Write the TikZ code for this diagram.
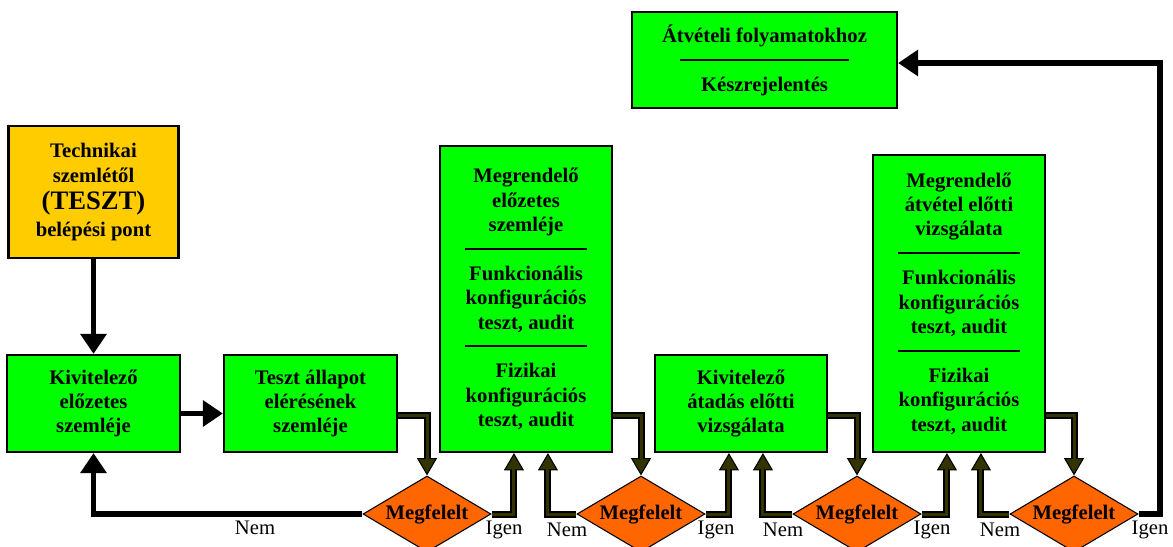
\documentclass[tikz,border=0pt]{standalone}
\usepackage{fontspec}
\setmainfont{Liberation Serif}
\usepackage[HTML]{xcolor}
\usepackage{tikz}
\usetikzlibrary{positioning, arrows, arrows.meta, shapes.geometric}

\definecolor{boxgreen}{HTML}{00FF00}
\definecolor{entryyellow}{HTML}{FFCC00}
\definecolor{gateorange}{HTML}{FF6600}
\definecolor{darkolive}{HTML}{333300}

\newcommand{\sepline}[1]{\rule[4.5pt]{#1}{1.5pt}}

\begin{document}
\begin{tikzpicture}[
    x=0.75pt, y=-0.75pt, % pixel grid, y runs downwards
    every node/.style={inner sep=2pt},
    box/.style={draw=black, line width=1.6pt, fill=boxgreen, align=center,
        font=\fontsize{15.5}{18.3}\selectfont\bfseries},
    entrybox/.style={box, fill=entryyellow},
    gate/.style={diamond, aspect=1.68, draw=black, line width=0.8pt, fill=gateorange,
        inner sep=0pt, minimum width=96pt, minimum height=57pt,
        font=\fontsize{15.5}{18}\selectfont\bfseries},
    answer/.style={font=\fontsize{15.5}{18}\selectfont},
    fatarrow/.style={draw=black, line width=4.2pt, -{Triangle[length=15pt, width=19pt]}},
    dblarrow/.style={draw=darkolive, line width=2.25pt, shorten >=11pt,
        preaction={draw=black, line width=5.25pt, shorten >=0pt,
            -{Triangle[length=13pt, width=15pt, line width=0.8pt, fill=darkolive]}}}
]
    \useasboundingbox (0,0) rectangle (1173,546);

    % 1. Define the nodes using explicit coordinates
    \node[entrybox, minimum width=127.5pt, minimum height=99pt] (entry) at (93.5,192)
        {Technikai\\szemlétől\\[2pt]{\fontsize{20}{24}\selectfont (TESZT)}\\[2pt]belépési pont};
    \node[box, minimum width=129.75pt, minimum height=72.75pt] (kiv1) at (93.5,403.5)
        {Kivitelező\\előzetes\\szemléje};
    \node[box, minimum width=129.75pt, minimum height=72.75pt] (teszt) at (310.5,403.5)
        {Teszt állapot\\elérésének\\szemléje};
    \node[box, minimum width=129pt, minimum height=229.5pt] (megr1) at (526,299)
        {Megrendelő\\előzetes\\szemléje\\\sepline{91pt}\\Funkcionális\\konfigurációs\\teszt, audit\\\sepline{91pt}\\Fizikai\\konfigurációs\\teszt, audit};
    \node[box, minimum width=129pt, minimum height=72.75pt] (kiv2) at (741,403.5)
        {Kivitelező\\átadás előtti\\vizsgálata};
    \node[box, minimum width=129pt, minimum height=222.75pt] (megr2) at (959,303.5)
        {Megrendelő\\átvétel előtti\\vizsgálata\\\sepline{91pt}\\Funkcionális\\konfigurációs\\teszt, audit\\\sepline{91pt}\\Fizikai\\konfigurációs\\teszt, audit};
    \node[box, minimum width=198.75pt, minimum height=72pt] (atvet) at (764.5,60)
        {Átvételi folyamatokhoz\\\sepline{127pt}\\Készrejelentés};

    % decisions
    \node[gate] (g1) at (427,514) {Megfelelt};
    \node[gate] (g2) at (641,514) {Megfelelt};
    \node[gate] (g3) at (857,514) {Megfelelt};
    \node[gate] (g4) at (1074,514) {Megfelelt};

    % answers
    \node[answer] (nem1) at (255,528) {Nem};
    \node[answer] (igen1) at (504,530) {Igen};
    \node[answer] (nem2) at (567,530) {Nem};
    \node[answer] (igen2) at (716,530) {Igen};
    \node[answer] (nem3) at (783,530) {Nem};
    \node[answer] (igen3) at (932,530) {Igen};
    \node[answer] (nem4) at (1000,530) {Nem};
    \node[answer] (igen4) at (1150,530) {Igen};

    % 2. Draw the arrows

    % entry -> first review
    \draw[fatarrow] (entry.south) -- (kiv1.north);
    \draw[fatarrow] ([yshift=-7.5pt]kiv1.east) -- ([yshift=-7.5pt]teszt.west);

    % reviews -> decisions
    \draw[dblarrow] ([yshift=28pt]teszt.south east) -| (g1.north);
    \draw[dblarrow] ([yshift=28pt]megr1.south east) -| (g2.north);
    \draw[dblarrow] ([yshift=28pt]kiv2.south east) -| (g3.north);
    \draw[dblarrow] ([yshift=28pt]megr2.south east) -| (g4.north);

    % Nem: back
    \draw[fatarrow] (g1.west) -| (kiv1.south);
    \draw[dblarrow] (g2.west) -| ([xshift=81.75pt]megr1.south west);
    \draw[dblarrow] (g3.west) -| ([xshift=81.75pt]kiv2.south west);
    \draw[dblarrow] (g4.west) -| ([xshift=81.75pt]megr2.south west);

    % Igen: forward
    \draw[dblarrow] (g1.east) -| ([xshift=56.25pt]megr1.south west);
    \draw[dblarrow] (g2.east) -| ([xshift=56.25pt]kiv2.south west);
    \draw[dblarrow] (g3.east) -| ([xshift=56.25pt]megr2.south west);
    \coordinate (turn) at (1160,63);
    \draw[fatarrow] (g4.east) -| (turn) -- (turn -| atvet.east);

\end{tikzpicture}
\end{document}
